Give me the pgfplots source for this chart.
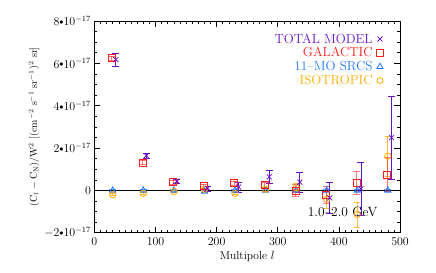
\documentclass[border=0pt]{standalone}
\usepackage{pgfplots}
\pgfplotsset{compat=1.18}
\definecolor{cTot}{RGB}{102,20,200}
\definecolor{cGal}{RGB}{255,30,30}
\definecolor{cSrc}{RGB}{30,120,255}
\definecolor{cIso}{RGB}{255,170,0}
\newcommand{\bul}{\mathord{\vcenter{\hbox{\fontsize{8}{8}\selectfont$\bullet$}}}}
\begin{document}
\begin{tikzpicture}
\begin{axis}[
  scale only axis,
  width=306bp, height=212bp,
  xmin=0, xmax=500, ymin=-2, ymax=8,
  xtick={0,100,200,300,400,500},
  minor x tick num=9,
  ytick={-2,0,2,4,6,8},
  yticklabels={$-2\bul10^{-17}$,$0$,$2\bul10^{-17}$,$4\bul10^{-17}$,$6\bul10^{-17}$,$8\bul10^{-17}$},
  minor y tick num=3,
  tick align=inside,
  major tick length=6bp, minor tick length=3bp,
  tick style={black, line width=0.6pt},
  axis line style={line width=0.8pt},
  ticklabel style={font=\fontsize{12}{14}\selectfont},
  xticklabel style={yshift=-2bp},
  xlabel={Multipole $l$},
  ylabel={$\mathrm{(C_{\mathit{l}}-C_N)/W^2\ [(cm^{-2}\ s^{-1}\ sr^{-1})^2\ sr]}$},
  xlabel style={font=\fontsize{11.5}{14}\selectfont, yshift=2bp},
  ylabel style={font=\fontsize{10}{12}\selectfont, yshift=-2bp},
  legend style={draw=none, fill=none, at={(0.955,0.96)}, anchor=north east, font=\fontsize{13.2}{15}\selectfont, row sep=-1bp},
  legend cell align=right,
  legend plot pos=right,
  clip=false,
]
\draw[black, line width=0.8pt] (axis cs:0,0) -- (axis cs:500,0);
\addlegendimage{only marks, mark=x, mark size=3.5bp, color=cTot, thick}
\addlegendentry{\textcolor{cTot}{TOTAL MODEL}\,}
\addlegendimage{only marks, mark=square, mark size=3.2bp, color=cGal, thick}
\addlegendentry{\textcolor{cGal}{GALACTIC}\,}
\addlegendimage{only marks, mark=triangle, mark size=3.5bp, color=cSrc, thick}
\addlegendentry{\textcolor{cSrc}{11--MO SRCS}\,}
\addlegendimage{only marks, mark=o, mark size=3bp, color=cIso, thick}
\addlegendentry{\textcolor{cIso}{ISOTROPIC}\,}
% 11-month sources
\addplot[forget plot, only marks, mark=triangle, mark size=3.5bp, color=cSrc, thick,
  error bars/.cd, y dir=both, y explicit, error bar style={cSrc, opacity=0.7}]
  coordinates {(30,0)+-(0,0.05) (80,0)+-(0,0.05) (130,0)+-(0,0.05) (180,-0.05)+-(0,0.05) (230,0)+-(0,0.05) (280,0)+-(0,0.05) (330,0)+-(0,0.05) (380,0)+-(0,0.05) (430,0)+-(0,0.05) (480,0)+-(0,0.05)};
% isotropic
\addplot[forget plot, only marks, mark=o, mark size=3.2bp, color=cIso, thick,
  error bars/.cd, y dir=both, y explicit, error bar style={cIso, opacity=0.8, line width=1pt}]
  coordinates {(30,-0.2)+-(0,0.05) (80,-0.14)+-(0,0.05) (130,-0.05)+-(0,0.05) (180,0.05)+-(0,0.05) (230,-0.14)+-(0,0.05) (280,0.05)+-(0,0.1) (330,0.13)+-(0,0.2) (380,-0.42)+-(0,0.4) (430,-1.13)+-(0,0.59) (480,1.62)+-(0,0.95)};
% galactic
\addplot[forget plot, only marks, mark=square, mark size=3.5bp, color=cGal, thick,
  error bars/.cd, y dir=both, y explicit, error bar style={cGal, opacity=0.6, line width=1pt}]
  coordinates {(28,6.26)+-(0,0.1) (79,1.32)+-(0,0.1) (129,0.39)+-(0,0.08) (179,0.2)+-(0,0.1) (229,0.34)+-(0,0.1) (279,0.25)+-(0,0.12) (329,0.0)+-(0,0.27) (379,-0.19)+-(0,0.4) (429,0.36)+-(0,0.55) (479,0.75)+-(0,0.8)};
% total
\addplot[forget plot, only marks, mark=x, mark size=3.5bp, color=cTot, thick,
  error bars/.cd, y dir=both, y explicit, error bar style={cTot, line width=0.8pt}]
  coordinates {(35,6.18)+-(0,0.32) (85,1.64)+-(0,0.12) (135,0.44)+-(0,0.1) (185,0.1)+-(0,0.12) (236,0.16)+-(0,0.25) (286,0.64)+-(0,0.3) (336,0.39)+-(0,0.47) (385,-0.35)+-(0,0.73) (436,0.08)+-(0,1.27) (486,2.49)+-(0,1.97)};
\node[font=\fontsize{13.5}{16}\selectfont, anchor=center] at (axis cs:406,-1.0) {1.0--2.0 GeV};
\path (rel axis cs:-0.3088,-0.1887) rectangle (rel axis cs:1.1176,1.0991);
\end{axis}
\end{tikzpicture}
\end{document}
